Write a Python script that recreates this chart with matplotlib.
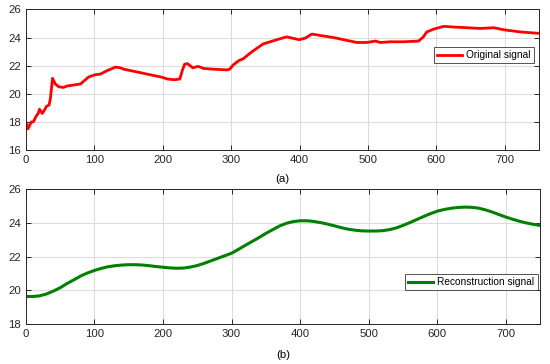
import matplotlib
matplotlib.use("Agg")
import matplotlib.pyplot as plt

plt.rcParams['font.family'] = ['Liberation Sans', 'DejaVu Sans']

orig_x = [0, 3, 8, 11, 15, 18, 20, 24, 28, 30, 34, 36, 39, 43, 48, 55, 60, 67, 80, 87, 92, 101, 109,
          119, 131, 138, 143, 158, 177, 197, 207, 217, 225, 229, 232, 236, 244, 252, 260, 274, 294, 298,
          303, 311, 318, 328, 338, 347, 357, 367, 381, 386, 399, 408, 418, 430, 450, 469, 484, 498, 511,
          518, 533, 552, 574, 581, 586, 596, 611, 625, 645, 664, 684, 699, 723, 750]
orig_y = [18.0, 17.5, 18.0, 18.0, 18.4, 18.6, 18.9, 18.6, 18.9, 19.1, 19.2, 19.7, 21.1, 20.7, 20.5,
          20.45, 20.55, 20.6, 20.7, 21.0, 21.2, 21.35, 21.4, 21.65, 21.9, 21.85, 21.75, 21.6, 21.4, 21.2,
          21.05, 21.0, 21.05, 21.7, 22.1, 22.15, 21.85, 21.95, 21.8, 21.75, 21.7, 21.75, 22.05, 22.35,
          22.5, 22.9, 23.25, 23.55, 23.7, 23.85, 24.05, 24.0, 23.85, 23.95, 24.25, 24.15, 24.0, 23.8,
          23.65, 23.65, 23.75, 23.65, 23.7, 23.7, 23.75, 24.05, 24.4, 24.6, 24.8, 24.75, 24.7, 24.65,
          24.7, 24.55, 24.4, 24.3]

rec_x = [0, 10, 20, 30, 40, 50, 60, 70, 80, 90, 100, 110, 120, 130, 140, 150, 160, 170, 180, 190,
         200, 210, 220, 230, 240, 250, 260, 270, 280, 290, 300, 310, 320, 330, 340, 350, 360, 370,
         380, 390, 400, 410, 420, 430, 440, 450, 460, 470, 480, 490, 500, 510, 520, 530, 540, 550,
         560, 570, 580, 590, 600, 610, 620, 630, 640, 650, 660, 670, 680, 690, 700, 710, 720, 730,
         740, 750]
rec_y = [19.63, 19.63, 19.67, 19.78, 19.95, 20.15, 20.4, 20.62, 20.85, 21.03, 21.18, 21.3, 21.4,
         21.46, 21.5, 21.52, 21.52, 21.5, 21.46, 21.41, 21.37, 21.33, 21.31, 21.32, 21.38, 21.47,
         21.6, 21.75, 21.9, 22.05, 22.2, 22.43, 22.67, 22.9, 23.13, 23.38, 23.6, 23.82, 23.98, 24.08,
         24.13, 24.13, 24.09, 24.02, 23.93, 23.83, 23.72, 23.63, 23.57, 23.53, 23.52, 23.52, 23.54,
         23.6, 23.7, 23.85, 24.02, 24.2, 24.38, 24.55, 24.7, 24.8, 24.87, 24.92, 24.94, 24.93, 24.88,
         24.78, 24.65, 24.5, 24.35, 24.22, 24.1, 24.0, 23.92, 23.85]

xticks = [0, 100, 200, 300, 400, 500, 600, 700]
yticks_a = [16, 18, 20, 22, 24, 26]
yticks_b = [18, 20, 22, 24, 26]

fig = plt.figure(figsize=(5.5, 3.64), dpi=100)
ax1 = fig.add_axes([0.047, 0.588, 0.933, 0.386])
ax2 = fig.add_axes([0.047, 0.110, 0.935, 0.370])

def style(ax, yt):
    ax.set_xlim(0, 750)
    ax.set_xticks(xticks)
    ax.set_yticks(yt)
    ax.set_ylim(yt[0], yt[-1])
    ax.grid(True, color='#dcdcdc', linewidth=0.8)
    ax.set_axisbelow(True)
    ax.tick_params(direction='in', top=True, right=True, length=3.5, width=0.7,
                   labelsize=8.2, colors='#262626', pad=3.5)
    for s in ax.spines.values():
        s.set_color('#262626')
        s.set_linewidth(0.7)

ax1.plot(orig_x, orig_y, color='#ff0000', linewidth=2.0, label='Original signal')
style(ax1, yticks_a)
ax1.legend(loc='upper right', bbox_to_anchor=(0.99, 0.73), fontsize=7.3, frameon=True,
           fancybox=False, edgecolor='#262626', handlelength=2.5, borderpad=0.3,
           handletextpad=0.4, borderaxespad=0).get_frame().set_linewidth(0.7)
ax1.text(0.5, -0.17, '(a)', transform=ax1.transAxes, ha='center', va='top', fontsize=8.2)

ax2.plot(rec_x, rec_y, color='#008000', linewidth=2.2, label='Reconstruction signal')
style(ax2, yticks_b)
ax2.legend(loc='upper right', bbox_to_anchor=(0.995, 0.37), fontsize=7.3, frameon=True,
           fancybox=False, edgecolor='#262626', handlelength=2.5, borderpad=0.3,
           handletextpad=0.4, borderaxespad=0).get_frame().set_linewidth(0.7)
ax2.text(0.5, -0.19, '(b)', transform=ax2.transAxes, ha='center', va='top', fontsize=8.2)

fig.savefig('out.png', dpi=100)
